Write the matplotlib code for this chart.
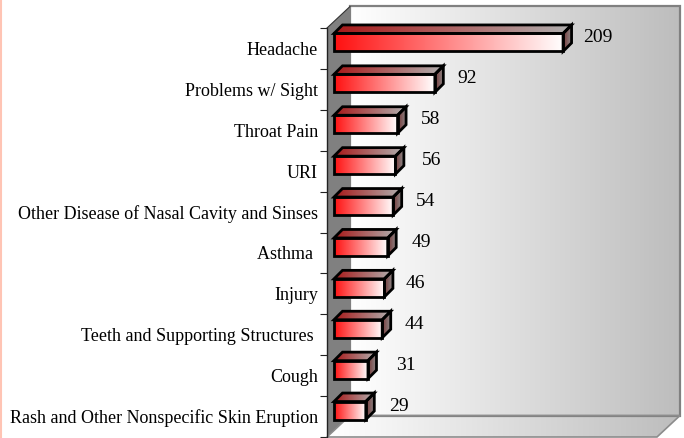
import matplotlib
matplotlib.use('Agg')
import matplotlib.pyplot as plt
import numpy as np
from matplotlib.colors import LinearSegmentedColormap
from matplotlib.patches import Polygon

# Data
categories = ['Headache', 'Problems w/ Sight', 'Throat Pain', 'URI',
              'Other Disease of Nasal Cavity and Sinses', 'Asthma ', 'Injury',
              'Teeth and Supporting Structures ', 'Cough',
              'Rash and Other Nonspecific Skin Eruption']
values = [209, 92, 58, 56, 54, 49, 46, 44, 31, 29]

W, H = 684, 438
X0, X1, Y0, Y1 = 327, 657, 28, 437   # axes box in pixels
PX_PER_UNIT = 1.096
PX_PER_CAT = (Y1 - Y0) / len(values)
# gap in pixels between bar end and its value label
label_gap = [20, 23, 23, 26, 23, 24, 21, 22, 28, 23]


def gradient(ax, pts, colors, zorder, vertical=False):
    """Fill a polygon with a linear gradient, clipped to its outline"""
    pts = np.array(pts)
    cmap = LinearSegmentedColormap.from_list('g', colors)
    ramp = np.linspace(0, 1, 256)
    ramp = ramp.reshape(-1, 1) if vertical else ramp.reshape(1, -1)
    im = ax.imshow(ramp, cmap=cmap, vmin=0, vmax=1, aspect='auto', zorder=zorder,
                   extent=(pts[:, 0].min(), pts[:, 0].max(), pts[:, 1].max(), pts[:, 1].min()),
                   interpolation='bilinear')
    outline = Polygon(pts, closed=True, transform=ax.transData)
    im.set_clip_box(ax.figure.bbox)  # walls reach outside the axes box
    im.set_clip_path(outline)


fig = plt.figure(figsize=(W / 100, H / 100), dpi=100)
ax = fig.add_axes([X0 / W, 1 - Y1 / H, (X1 - X0) / W, (Y1 - Y0) / H])
ax.patch.set_visible(False)

xmin, xmax = -7 / PX_PER_UNIT, (X1 - 334) / PX_PER_UNIT
ymin, ymax = len(values) - 0.5, -0.5

# pixel lengths turned into data lengths
wall_dx, wall_dy = 23 / PX_PER_UNIT, 21.5 / PX_PER_CAT
bar_dx, bar_dy = 8.5 / PX_PER_UNIT, 8.5 / PX_PER_CAT
bar_shift = -6 / PX_PER_CAT
bar_h = 18 / PX_PER_CAT

# 3D box: back wall, floor, side wall
back = [(xmin + wall_dx, ymax - wall_dy), (xmax + wall_dx, ymax - wall_dy),
        (xmax + wall_dx, ymin - wall_dy), (xmin + wall_dx, ymin - wall_dy)]
floor = [(xmin, ymin), (xmin + wall_dx, ymin - wall_dy),
         (xmax + wall_dx, ymin - wall_dy), (xmax, ymin)]
side = [(xmin, ymax), (xmin + wall_dx, ymax - wall_dy),
        (xmin + wall_dx, ymin - wall_dy), (xmin, ymin)]

gradient(ax, back, ['#ffffff', '#bdbdbd'], 1)
gradient(ax, floor, ['#ffffff', '#bdbdbd'], 1)
ax.add_patch(Polygon(side, closed=True, fc='#808080', ec='none', zorder=2, clip_on=False))
ax.add_patch(Polygon(back, closed=True, fc='none', ec='#808080', lw=1.6, zorder=2, clip_on=False))
ax.add_patch(Polygon(floor, closed=True, fc='none', ec='#8c8c8c', lw=1.2, zorder=2, clip_on=False))
ax.plot([xmin, xmin + wall_dx], [ymax, ymax - wall_dy], color='#333333', lw=0.8, zorder=3, clip_on=False)

# Bars
for i, v in enumerate(values):
    top = i + bar_shift - bar_h / 2
    bot = i + bar_shift + bar_h / 2
    front = [(0, top), (v, top), (v, bot), (0, bot)]
    lid = [(0, top), (bar_dx, top - bar_dy), (v + bar_dx, top - bar_dy), (v, top)]
    end = [(v, top), (v + bar_dx, top - bar_dy), (v + bar_dx, bot - bar_dy), (v, bot)]
    gradient(ax, front, ['#ff1010', '#ffffff'], 4)
    gradient(ax, lid, ['#a81818', '#b0b0b0'], 4)
    gradient(ax, end, ['#7a3a3a', '#8c8c8c'], 4)
    for pts in (front, lid, end):
        ax.add_patch(Polygon(pts, closed=True, fc='none', ec='black', lw=2.0,
                             joinstyle='miter', zorder=5, clip_on=False))
    ax.annotate(str(v), (v, i), xytext=(label_gap[i] * 0.72, 10.5 * 0.72), textcoords='offset points',
                family='Liberation Serif', fontsize=14, color='black', ha='left', va='center',
                zorder=6, annotation_clip=False)

ax.set_xlim(xmin, xmax)
ax.set_ylim(ymin, ymax)

# Axis: labels on the categories, tick marks between them
for s in ('top', 'right', 'bottom'):
    ax.spines[s].set_visible(False)
ax.spines['left'].set_color('#222222')
ax.spines['left'].set_linewidth(1.0)
ax.spines['left'].set_zorder(7)
ax.set_xticks([])
ax.set_yticks(range(len(categories)))
ax.set_yticklabels(categories, family='Liberation Serif', fontsize=13)
ax.set_yticks(np.arange(len(categories) + 1) - 0.5, minor=True)
ax.tick_params(axis='y', which='major', length=0, pad=6.5)
ax.tick_params(axis='y', which='minor', length=5, width=0.8, color='#222222')

# Pink page edge at far left
fig.add_artist(plt.Line2D([0.0012, 0.0012], [0, 1], color='#ffc4b4', lw=1.5))

plt.savefig('out.png', dpi=100)
